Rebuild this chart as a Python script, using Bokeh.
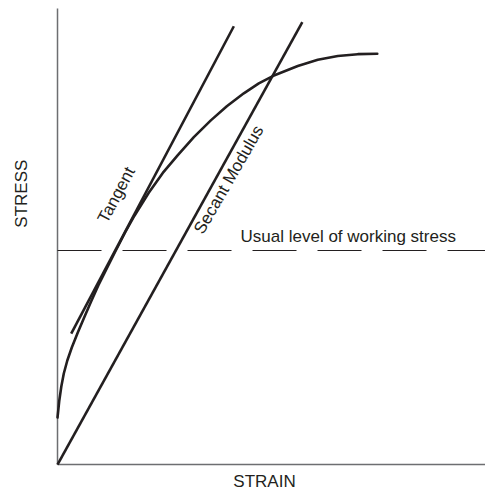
from bokeh.plotting import figure
from bokeh.models import Range1d, Label
from bokeh.embed import file_html
from bokeh.resources import INLINE

# stress-strain curve (arbitrary units 0-100)
strain = [0.0, 0.42, 0.89, 1.47, 2.29, 3.34, 4.74, 6.38, 7.85, 9.53, 11.51, 13.62,
          15.79, 17.94, 21.32, 24.60, 28.11, 31.85, 35.82, 39.56, 43.53, 47.03,
          50.42, 56.14, 60.82, 65.49, 70.16, 74.71]
stress = [10.31, 14.04, 17.11, 19.96, 22.81, 25.66, 28.95, 32.57, 35.75, 39.25, 42.98, 46.93,
          50.88, 54.50, 59.58, 63.94, 67.85, 71.78, 75.46, 78.55, 81.40, 83.57,
          85.24, 87.39, 88.75, 89.58, 89.98, 90.07]

tangent_strain = [3.2, 41.2]
tangent_stress = [28.7, 96.1]
secant_strain = [0.0, 57.2]
secant_stress = [0.0, 97.0]
working_stress = 46.93

# axis extents (data units)
axis_x = [0, 100]
axis_y = [0, 100]

ink = "#231f20"
axis_grey = "#6d6e71"
font = "Liberation Sans"

p = figure(width=485, height=490, output_backend="svg", toolbar_location=None,
           x_range=Range1d(-13.32, 100), y_range=Range1d(-5.70, 101.75),
           min_border=0)
p.outline_line_color = None
p.grid.visible = False
p.axis.visible = False

# axis lines
p.line([axis_x[0], axis_x[0]], axis_y, line_color=axis_grey, line_width=1.5)
p.line(axis_x, [axis_y[0], axis_y[0]], line_color=axis_grey, line_width=1.5)

# working stress level (dashed)
p.line(axis_x, [working_stress, working_stress], line_color=ink, line_width=1.2,
       line_dash="44 21")

p.line(strain, stress, line_color=ink, line_width=2.6, line_join="round", line_cap="round")
p.line(tangent_strain, tangent_stress, line_color=ink, line_width=2.6)
p.line(secant_strain, secant_stress, line_color=ink, line_width=2.6)

def lab(text, x, y, angle=0, align="left", baseline="alphabetic"):
    p.add_layout(Label(x=x, y=y, text=text, angle=angle, angle_units="deg",
                       text_font=font, text_font_size="17px", text_color=ink,
                       text_align=align, text_baseline=baseline))

lab("Usual level of working stress", 42.76, 50.07)
lab("Tangent", 10.44, 53.25, angle=62)
lab("Secant Modulus", 32.90, 50.88, angle=60)
lab("STRESS", -8.4, 59.4, angle=90, align="center", baseline="middle")
lab("STRAIN", 48.36, -3.72, align="center", baseline="alphabetic")

open("out.html", "w").write(file_html(p, INLINE))
